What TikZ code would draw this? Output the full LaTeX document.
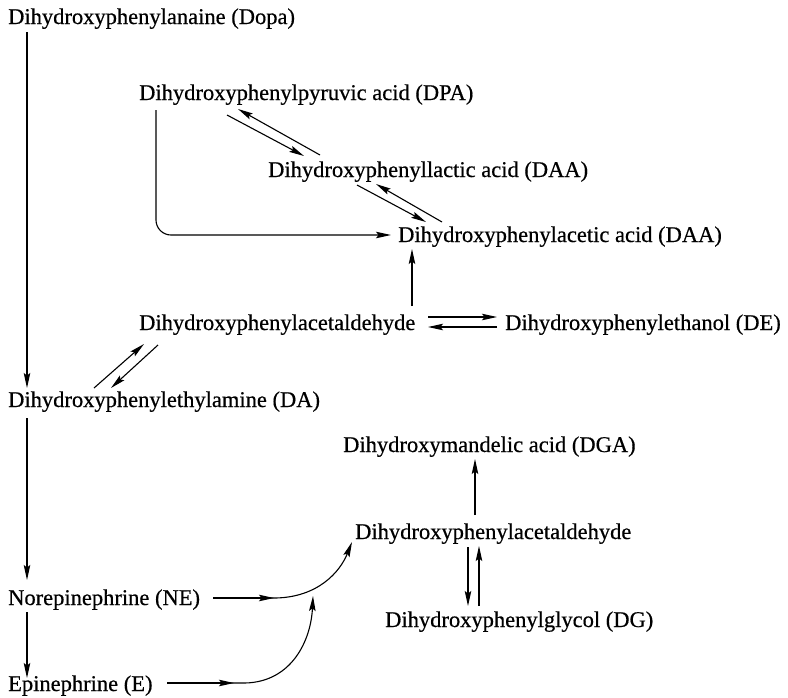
\documentclass[tikz,border=0pt]{standalone}
\usepackage{fontspec}
\setmainfont{Liberation Serif}
\newfontfamily\labelfont[FakeBold=0.5]{Liberation Serif}
\usetikzlibrary{arrows.meta}
\begin{document}
\begin{tikzpicture}[x=1pt,y=-1pt,
  lbl/.style={anchor=base west,inner sep=0pt,font=\labelfont\fontsize{22.5}{26}\selectfont},
  arr/.style={line width=1.1pt,-{Stealth[length=15pt,width=6.5pt,inset=2.5pt]}},
  ln/.style={line width=1.1pt}]
\useasboundingbox (0,0) rectangle (788,697);
% compounds
\node[lbl] (dopa) at (8,24) {Dihydroxyphenylanaine (Dopa)};
\node[lbl] (dpa) at (139,100) {Dihydroxyphenylpyruvic acid (DPA)};
\node[lbl] (dla) at (268,177) {Dihydroxyphenyllactic acid (DAA)};
\node[lbl] (daa) at (398,242) {Dihydroxyphenylacetic acid (DAA)};
\node[lbl] (ald) at (139,330) {Dihydroxyphenylacetaldehyde};
\node[lbl] (de) at (505,330) {Dihydroxyphenylethanol (DE)};
\node[lbl] (da) at (8,407) {Dihydroxyphenylethylamine (DA)};
\node[lbl] (dga) at (343,452) {Dihydroxymandelic acid (DGA)};
\node[lbl] (aldb) at (355,539) {Dihydroxyphenylacetaldehyde};
\node[lbl] (dg) at (385,627) {Dihydroxyphenylglycol (DG)};
\node[lbl] (ne) at (8,605) {Norepinephrine (NE)};
\node[lbl] (epi) at (8,691) {Epinephrine (E)};
% connector end points
\coordinate (dopaS) at (27,32);
\coordinate (daN) at (27,388);
\coordinate (daS) at (27,418);
\coordinate (neN) at (27,580);
\coordinate (neS) at (27,612);
\coordinate (epiN) at (27,678);
\coordinate (dpaS) at (156,110);
\coordinate (daaW) at (391,235);
\coordinate (p1a) at (227,115); \coordinate (p1b) at (304,156);
\coordinate (p2a) at (320,155); \coordinate (p2b) at (238,109);
\coordinate (q1a) at (357,185); \coordinate (q1b) at (426,222);
\coordinate (q2a) at (442,222); \coordinate (q2b) at (376,184);
\coordinate (aldN) at (412,306); \coordinate (daaS) at (412,249);
\coordinate (r1a) at (428,317); \coordinate (r1b) at (497,317);
\coordinate (r2a) at (497,327); \coordinate (r2b) at (428,327);
\coordinate (s1a) at (94,388); \coordinate (s1b) at (144,344);
\coordinate (s2a) at (158,345); \coordinate (s2b) at (111,388);
\coordinate (dgaArrB) at (475,515); \coordinate (dgaArrT) at (475,459);
\coordinate (t1a) at (468,547); \coordinate (t1b) at (468,606);
\coordinate (t2a) at (479,606); \coordinate (t2b) at (479,546);
\coordinate (neE) at (213,598); \coordinate (neM) at (274,598);
\coordinate (neC) at (266,598);
\coordinate (aldbW) at (352,542);
\coordinate (epiE) at (167,683); \coordinate (epiM) at (234,683);
\coordinate (epiC) at (226,683);
\coordinate (epiT) at (313,596);
% connectors
\draw[arr] (dopaS) -- (daN);
\draw[arr] (daS) -- (neN);
\draw[arr] (neS) -- (epiN);
\draw[arr,rounded corners=15pt] (dpaS) |- (daaW);
\draw[arr] (p1a) -- (p1b);
\draw[arr] (p2a) -- (p2b);
\draw[arr] (q1a) -- (q1b);
\draw[arr] (q2a) -- (q2b);
\draw[arr] (aldN) -- (daaS);
\draw[arr] (r1a) -- (r1b);
\draw[arr] (r2a) -- (r2b);
\draw[arr] (s1a) -- (s1b);
\draw[arr] (s2a) -- (s2b);
\draw[arr] (dgaArrB) -- (dgaArrT);
\draw[arr] (t1a) -- (t1b);
\draw[arr] (t2a) -- (t2b);
\draw[arr] (neE) -- (neM);
\draw[arr] (neC) -- (276,598) .. controls (318,597) and (340,572) .. (aldbW);
\draw[arr] (epiE) -- (epiM);
\draw[arr] (epiC) -- (245,683) .. controls (292,682) and (311,640) .. (epiT);
\end{tikzpicture}
\end{document}
